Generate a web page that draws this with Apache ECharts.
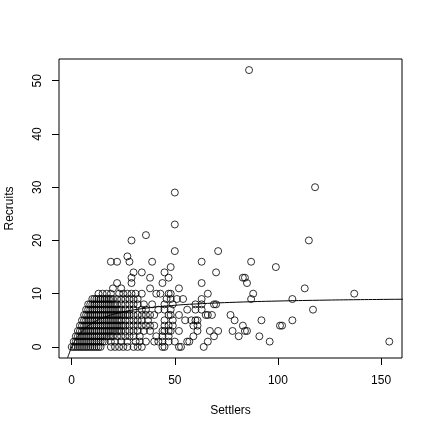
<!DOCTYPE html>
<html>
<head>
<meta charset="utf-8">
<script src="https://cdn.jsdelivr.net/npm/echarts@6/dist/echarts.min.js"></script>
<style>
html,body{margin:0;padding:0;background:#fff;}
#chart{width:432px;height:432px;}
</style>
</head>
<body>
<div id="chart"></div>
<script>
// Recruit counts (y) and the settler counts (x) observed at each recruit count
const recruitLevels = [0,1,2,3,4,5,6,7,8,9,10,11,12,13,14,15,16,17,18,20,21,23,29,30,52];
const settlersR0 = [0,1,2,3,4,5,6,7,8,9,10,11,12,13,14,19,21,23,25,27,30,32,34,44,45,52,53,64];
const settlersR1 = [1,2,3,4,5,6,7,8,9,10,11,12,13,14,15,16,19,21,24,27,31,33,36,40,42,44,47,50,56,57,66,96,154];
const settlersR2 = [2,3,4,5,6,7,8,9,10,11,12,13,14,15,16,17,18,19,20,22,24,26,28,30,33,41,44,47,59,69,81,91];
const settlersR3 = [3,4,5,6,7,8,9,10,11,12,13,14,15,16,17,18,19,20,21,22,23,24,26,28,30,32,35,38,44,45,47,48,52,61,67,71,78,84,85];
const settlersR4 = [4,5,6,7,8,9,10,11,12,13,14,15,16,17,18,19,20,21,22,23,24,25,26,28,30,32,34,36,38,40,45,47,49,59,61,83,101,102];
const settlersR5 = [5,6,7,8,9,10,11,12,13,14,15,16,17,18,19,20,21,22,23,24,26,28,30,32,34,37,45,49,55,58,60,61,79,92,107];
const settlersR6 = [6,7,8,9,10,11,12,13,14,15,16,17,18,19,20,21,22,23,24,25,26,27,28,30,32,34,36,38,40,47,48,52,65,66,68,77];
const settlersR7 = [7,8,9,10,11,12,13,14,15,16,17,18,19,20,21,22,23,24,26,28,30,34,36,42,45,48,56,60,63,117];
const settlersR8 = [8,9,10,11,12,13,14,15,16,17,18,19,20,21,22,24,26,28,30,32,35,39,45,49,60,63,69,70];
const settlersR9 = [10,11,12,13,14,15,16,17,18,19,20,22,24,26,28,30,32,46,48,51,54,63,87,107];
const settlersR10 = [13,15,17,19,23,25,27,29,31,34,41,43,47,48,66,88,137];
const settlersR11 = [20,24,38,52,113];
const settlersR12 = [22,29,44,63,85];
const settlersR13 = [29,38,47,83,84];
const settlersR14 = [30,34,45,70];
const settlersR15 = [48,99];
const settlersR16 = [19,22,28,39,63,87];
const settlersR17 = [27];
const settlersR18 = [50,71];
const settlersR20 = [29,115];
const settlersR21 = [36];
const settlersR23 = [50];
const settlersR29 = [50];
const settlersR30 = [118];
const settlersR52 = [86];
const settlersByLevel = [settlersR0,settlersR1,settlersR2,settlersR3,settlersR4,settlersR5,settlersR6,settlersR7,settlersR8,settlersR9,settlersR10,settlersR11,settlersR12,settlersR13,settlersR14,settlersR15,settlersR16,settlersR17,settlersR18,settlersR20,settlersR21,settlersR23,settlersR29,settlersR30,settlersR52];

// Fitted curve
const curveSettlers = [-2,0,1,2,3,4,6,8,10,13,16,20,25,30,40,50,60,80,100,120,140,161];
const curveRecruits = [-2.04,0,0.77,1.43,2.0,2.49,3.31,3.96,4.48,5.11,5.60,6.11,6.59,6.95,7.47,7.82,8.07,8.40,8.62,8.77,8.88,8.96];

const xTicks = [0,50,100,150];
const yTicks = [0,10,20,30,40,50];

const points = [];
recruitLevels.forEach((r, i) => settlersByLevel[i].forEach(s => points.push([s, r])));
const curve = curveSettlers.map((s, i) => [s, curveRecruits[i]]);

const font = '"Liberation Sans", Arial, Helvetica, sans-serif';
const chart = echarts.init(document.getElementById('chart'), null, {renderer: 'canvas'});
chart.setOption({
  animation: false,
  backgroundColor: '#ffffff',
  grid: {left: 59, right: 30, top: 59, bottom: 74, containLabel: false, outerBoundsMode: 'none', show: true, borderColor: '#000', borderWidth: 1, backgroundColor: 'transparent'},
  xAxis: {
    type: 'value', min: -6.16, max: 160.16,
    name: 'Settlers', nameLocation: 'middle', nameGap: 47,
    nameTextStyle: {fontFamily: font, fontSize: 12, color: '#000'},
    axisLine: {show: false, onZero: false},
    splitLine: {show: false},
    axisTick: {show: true, inside: false, length: 7, customValues: xTicks, lineStyle: {color: '#000', width: 1}},
    axisLabel: {customValues: xTicks, margin: 17, fontFamily: font, fontSize: 12, color: '#000'}
  },
  yAxis: {
    type: 'value', min: -2.08, max: 54.08,
    name: 'Recruits', nameLocation: 'middle', nameGap: 43, nameRotate: 90,
    nameTextStyle: {fontFamily: font, fontSize: 12, color: '#000'},
    axisLine: {show: false, onZero: false},
    splitLine: {show: false},
    axisTick: {show: true, inside: false, length: 7, customValues: yTicks, lineStyle: {color: '#000', width: 1}},
    axisLabel: {customValues: yTicks, rotate: 90, margin: 15, fontFamily: font, fontSize: 12, color: '#000', align: 'center', verticalAlign: 'bottom'}
  },
  series: [
    {
      type: 'scatter', data: points, symbol: 'circle', symbolSize: 7,
      itemStyle: {color: 'rgba(255,255,255,0)', borderColor: '#000', borderWidth: 1},
      silent: true
    },
    {
      type: 'line', data: curve, smooth: true, showSymbol: false, clip: true,
      lineStyle: {color: '#000', width: 1}, silent: true
    }
  ]
});
</script>
</body>
</html>
